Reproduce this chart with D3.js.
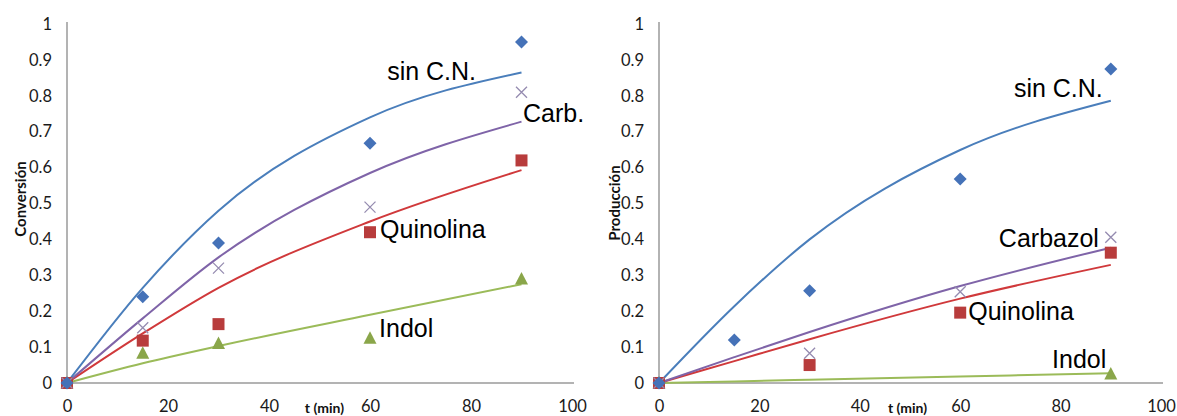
<!DOCTYPE html>
<html>
<head>
<meta charset="utf-8">
<script src="https://cdn.jsdelivr.net/npm/d3@7"></script>
<style>
  html, body { margin: 0; padding: 0; background: #fff; }
  svg { display: block; }
</style>
</head>
<body>
<svg id="chart" width="1177" height="416"></svg>
<script>
// Sampling times (min)
const times = [0, 15, 30, 60, 90];
const xTicks = [0, 20, 40, 60, 80, 100];
const yTicks = [0, 0.1, 0.2, 0.3, 0.4, 0.5, 0.6, 0.7, 0.8, 0.9, 1];

// Conversion: measured points
const convSinCN = [0, 0.24, 0.39, 0.668, 0.95];
const convCarb  = [0, 0.154, 0.32, 0.49, 0.81];
const convQuin  = [0, 0.118, 0.164, 0.42, 0.62];
const convIndol = [0, 0.083, 0.11, 0.125, 0.29];
// Conversion: model curves
const convFitSinCN = [0, 0.265, 0.48, 0.74, 0.865];
const convFitCarb  = [0, 0.18, 0.35, 0.585, 0.728];
const convFitQuin  = [0, 0.138, 0.265, 0.45, 0.593];
const convFitIndol = [0, 0.055, 0.103, 0.19, 0.275];

// Production: measured points (null = not measured)
const prodSinCN = [0, 0.12, 0.257, 0.568, 0.875];
const prodCarb  = [0, null, 0.083, 0.254, 0.406];
const prodQuin  = [0, null, 0.05, 0.196, 0.363];
const prodIndol = [0, null, null, null, 0.025];
// Production: model curves
const prodFitSinCN = [0, 0.214, 0.40, 0.649, 0.786];
const prodFitCarb  = [0, 0.072, 0.142, 0.27, 0.377];
const prodFitQuin  = [0, 0.061, 0.122, 0.235, 0.329];
const prodFitIndol = [0, 0.0045, 0.009, 0.018, 0.027];

const colors = {
  sin:   { line: "#4a7ebb", mark: "#4572b8" },
  carb:  { line: "#7f64a8", mark: "#958bb0" },
  quin:  { line: "#d0393b", mark: "#b83c3c" },
  indol: { line: "#9bbb59", mark: "#8aa64a" }
};

const svg = d3.select("#chart");
const tickFont = "Lato, 'Open Sans', sans-serif";

function markerPath(kind) {
  if (kind === "diamond") return "M0,-6.5L6.5,0L0,6.5L-6.5,0Z";
  if (kind === "square") return "M-6,-6H6V6H-6Z";
  if (kind === "triangle") return "M0,-7L6.5,5.5H-6.5Z";
  return "M-5.5,-5.5L5.5,5.5M5.5,-5.5L-5.5,5.5";
}

function drawPanel(cfg) {
  const x = d3.scaleLinear().domain([0, 100]).range([cfg.x0, cfg.x1]);
  const y = d3.scaleLinear().domain([0, 1]).range([383, 24]);
  const g = svg.append("g");

  // axes
  const yAxis = g.append("g").attr("transform", `translate(${cfg.x0},0)`)
    .call(d3.axisLeft(y).tickValues(yTicks).tickSize(0).tickPadding(15)
      .tickFormat(d => d === 0 || d === 1 ? String(d) : d3.format(".1f")(d)));
  yAxis.select(".domain").attr("stroke", "#9a9a9a").attr("stroke-width", 1.5)
    .attr("d", `M0,${y(1) - 2}V${y(0)}`);
  yAxis.selectAll("text").attr("font-family", tickFont)
    .attr("font-size", 16.5).attr("fill", "#1a1a1a");

  const xAxis = g.append("g").attr("transform", `translate(0,${y(0)})`)
    .call(d3.axisBottom(x).tickValues(xTicks).tickSize(0).tickPadding(17));
  xAxis.select(".domain").attr("stroke", "#9a9a9a").attr("stroke-width", 1.5)
    .attr("d", `M${cfg.x0},0H${x(100) + 2}`);
  xAxis.selectAll("text").attr("font-family", tickFont)
    .attr("font-size", 16.5).attr("fill", "#1a1a1a");

  // axis titles
  g.append("text")
    .attr("transform", `translate(${cfg.yTitleX},${cfg.yTitleY}) rotate(-90)`)
    .attr("text-anchor", "middle").attr("dominant-baseline", "central")
    .attr("font-family", tickFont).attr("font-weight", "bold")
    .attr("font-size", 15).attr("fill", "#111").text(cfg.yTitle);
  g.append("text")
    .attr("x", x(cfg.xTitleT)).attr("y", 413)
    .attr("font-family", tickFont).attr("font-weight", "bold")
    .attr("font-size", 14).attr("fill", "#111").text("t (min)");

  const line = d3.line()
    .defined(d => d[1] != null)
    .x(d => x(d[0])).y(d => y(d[1]))
    .curve(d3.curveMonotoneX);

  cfg.series.forEach(s => {
    g.append("path")
      .datum(times.map((t, i) => [t, s.fit[i]]))
      .attr("fill", "none").attr("stroke", s.color.line).attr("stroke-width", 2)
      .attr("d", line);
  });

  cfg.series.forEach(s => {
    const pts = times.map((t, i) => [t, s.obs[i]]).filter(d => d[1] != null);
    g.selectAll(null).data(pts).enter().append("path")
      .attr("transform", d => `translate(${x(d[0])},${y(d[1])})`)
      .attr("d", markerPath(s.marker))
      .attr("fill", s.marker === "x" ? "none" : s.color.mark)
      .attr("stroke", s.marker === "x" ? s.color.mark : "none")
      .attr("stroke-width", 1.3);
  });

  cfg.labels.forEach(l => {
    g.append("text")
      .attr("x", x(l.t)).attr("y", y(l.v))
      .attr("font-family", "'Liberation Sans', Arial, sans-serif")
      .attr("font-size", 25).attr("fill", "#000").text(l.text);
  });
}

drawPanel({
  x0: 67, x1: 572,
  yTitle: "Conversión", yTitleX: 20, yTitleY: 199, xTitleT: 47.1,
  series: [
    { obs: convIndol, fit: convFitIndol, color: colors.indol, marker: "triangle" },
    { obs: convQuin,  fit: convFitQuin,  color: colors.quin,  marker: "square" },
    { obs: convCarb,  fit: convFitCarb,  color: colors.carb,  marker: "x" },
    { obs: convSinCN, fit: convFitSinCN, color: colors.sin,   marker: "diamond" }
  ],
  labels: [
    { text: "sin C.N.",  t: 63.4, v: 0.844 },
    { text: "Carb.",     t: 90.3, v: 0.727 },
    { text: "Quinolina", t: 62.0, v: 0.404 },
    { text: "Indol",     t: 61.8, v: 0.128 }
  ]
});

drawPanel({
  x0: 659, x1: 1161,
  yTitle: "Producción", yTitleX: 614, yTitleY: 203, xTitleT: 45.6,
  series: [
    { obs: prodIndol, fit: prodFitIndol, color: colors.indol, marker: "triangle" },
    { obs: prodQuin,  fit: prodFitQuin,  color: colors.quin,  marker: "square" },
    { obs: prodCarb,  fit: prodFitCarb,  color: colors.carb,  marker: "x" },
    { obs: prodSinCN, fit: prodFitSinCN, color: colors.sin,   marker: "diamond" }
  ],
  labels: [
    { text: "sin C.N.",  t: 70.7, v: 0.797 },
    { text: "Carbazol",  t: 67.7, v: 0.379 },
    { text: "Quinolina", t: 61.6, v: 0.175 },
    { text: "Indol",     t: 78.3, v: 0.042 }
  ]
});
</script>
</body>
</html>
